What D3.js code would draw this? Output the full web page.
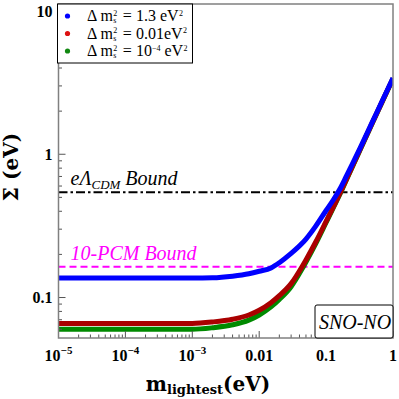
<!DOCTYPE html>
<html>
<head>
<meta charset="utf-8">
<script src="https://cdn.jsdelivr.net/npm/d3@7"></script>
<style>
  html, body { margin: 0; padding: 0; background: #fff; }
  svg { display: block; }
</style>
</head>
<body>
<div id="chart"></div>
<script>
// m_lightest values (eV) where the curves were read
const mLightest = [1e-5, 1e-4, 1e-3, 0.002, 0.004, 0.007, 0.01, 0.015, 0.02, 0.03, 0.043, 0.05, 0.07, 0.1, 0.13, 0.16, 0.2, 0.3, 0.5, 0.7, 1];

// Sum of masses (eV) for each sterile splitting
const sumBlue  = [0.137, 0.137, 0.137, 0.1375, 0.141, 0.1465, 0.1525, 0.161, 0.175, 0.203, 0.237, 0.256, 0.315, 0.405, 0.485, 0.570, 0.70, 1.03, 1.71, 2.39, 3.40];
const sumRed   = [0.066, 0.066, 0.066, 0.0675, 0.0705, 0.0755, 0.0815, 0.092, 0.103, 0.125, 0.162, 0.183, 0.244, 0.340, 0.435, 0.530, 0.665, 1.005, 1.69, 2.37, 3.38];
const sumGreen = [0.060, 0.060, 0.060, 0.0615, 0.0645, 0.0695, 0.0755, 0.086, 0.097, 0.119, 0.156, 0.177, 0.238, 0.334, 0.429, 0.524, 0.659, 0.998, 1.68, 2.36, 3.37];

const seriesNames = ["1.3 eV", "0.01eV", "10^-4 eV"];

// Horizontal bounds
const lcdmBound = 0.544;
const pcmBound = 0.164;

// Tick labels
const xTickValues = [1e-5, 1e-4, 1e-3, 0.01, 0.1, 1];
const xTickLabels = ["10|-5", "10|-4", "10|-3", "0.01", "0.1", "1"];
const yTickValues = [0.1, 1, 10];
const yTickLabels = ["0.1", "1", "10"];

const width = 399, height = 399;
const margin = { top: 4, right: 6, bottom: 61, left: 58.5 };
const innerW = width - margin.left - margin.right;
const innerH = height - margin.top - margin.bottom;

const svg = d3.select('#chart').append('svg')
  .attr('width', width)
  .attr('height', height);

const g = svg.append('g')
  .attr('transform', `translate(${margin.left},${margin.top})`);

const x = d3.scaleLog().domain([1e-5, 1]).range([0, innerW]);
const y = d3.scaleLog().domain([0.05218, 11.19]).range([innerH, 0]);

g.append('clipPath').attr('id', 'clip')
  .append('rect').attr('width', innerW).attr('height', innerH);

const plot = g.append('g').attr('clip-path', 'url(#clip)');

// bound lines
plot.append('line')
  .attr('x1', 0).attr('x2', innerW)
  .attr('y1', y(lcdmBound)).attr('y2', y(lcdmBound))
  .attr('stroke', '#000').attr('stroke-width', 2)
  .attr('stroke-dasharray', '9,3,2.5,3');

plot.append('line')
  .attr('x1', 0).attr('x2', innerW)
  .attr('y1', y(pcmBound)).attr('y2', y(pcmBound))
  .attr('stroke', '#ff00ff').attr('stroke-width', 2)
  .attr('stroke-dasharray', '7,4');

// curves
const line = d3.line()
  .x(d => x(d[0]))
  .y(d => y(d[1]))
  .curve(d3.curveMonotoneX);

const curves = [
  { vals: sumGreen, color: '#008a00' },
  { vals: sumRed, color: '#aa0000' },
  { vals: sumBlue, color: '#0000ff' }
];
curves.forEach(c => {
  plot.append('path')
    .datum(mLightest.map((m, i) => [m, c.vals[i]]))
    .attr('d', line)
    .attr('fill', 'none')
    .attr('stroke', c.color)
    .attr('stroke-width', 5);
});

// ticks (inside)
const tickColor = '#555';
x.ticks().forEach(v => {
  const major = xTickValues.some(t => Math.abs(Math.log10(t) - Math.log10(v)) < 1e-6);
  g.append('line')
    .attr('x1', x(v)).attr('x2', x(v))
    .attr('y1', innerH).attr('y2', innerH - (major ? 7 : 3.5))
    .attr('stroke', tickColor).attr('stroke-width', 1);
});
y.ticks().forEach(v => {
  const major = yTickValues.some(t => Math.abs(Math.log10(t) - Math.log10(v)) < 1e-6);
  g.append('line')
    .attr('x1', 0).attr('x2', major ? 7 : 3.5)
    .attr('y1', y(v)).attr('y2', y(v))
    .attr('stroke', tickColor).attr('stroke-width', 1);
});

// frame
g.append('rect')
  .attr('width', innerW).attr('height', innerH)
  .attr('fill', 'none')
  .attr('stroke', '#808080').attr('stroke-width', 1.5);

// tick labels
const serif = '"Liberation Serif", "DejaVu Serif", serif';
const wideSerif = '"DejaVu Serif", serif';
xTickValues.forEach((v, i) => {
  const parts = xTickLabels[i].split('|');
  const t = g.append('text')
    .attr('x', x(v)).attr('y', innerH + 23)
    .attr('text-anchor', 'middle')
    .style('font-family', serif)
    .style('font-weight', 'bold')
    .style('font-size', '16px')
    .text(parts[0]);
  if (parts[1]) {
    t.append('tspan')
      .attr('dy', -7)
      .style('font-size', '11px')
      .text(parts[1].replace('-', '\u2212'));
  }
});
yTickValues.forEach((v, i) => {
  g.append('text')
    .attr('x', -6).attr('y', y(v))
    .attr('dy', '0.35em')
    .attr('text-anchor', 'end')
    .style('font-family', serif)
    .style('font-weight', 'bold')
    .style('font-size', '16px')
    .text(yTickLabels[i]);
});

// axis titles
svg.append('text')
  .attr('transform', `translate(18,167) rotate(-90)`)
  .attr('text-anchor', 'middle')
  .style('font-family', wideSerif)
  .style('font-weight', 'bold')
  .style('font-size', '20px')
  .text('\u03a3 (eV)');

const xt = svg.append('text')
  .attr('x', 208).attr('y', 391)
  .attr('text-anchor', 'middle')
  .style('font-family', wideSerif)
  .style('font-weight', 'bold')
  .style('font-size', '20px');
xt.append('tspan').text('m');
xt.append('tspan').attr('dy', 3).style('font-size', '13px').text('lightest');
xt.append('tspan').attr('dy', -3).text('(eV)');

// bound annotations
const ann1 = g.append('text')
  .attr('x', 70.5 - margin.left).attr('y', 185 - margin.top)
  .style('font-family', serif)
  .style('font-style', 'italic')
  .style('font-size', '20px')
  .attr('fill', '#000');
ann1.append('tspan').text('e\u039b');
ann1.append('tspan').attr('dy', 4).style('font-size', '13px').text('CDM');
ann1.append('tspan').attr('dy', -4).text(' Bound');

g.append('text')
  .attr('x', 70.5 - margin.left).attr('y', 260 - margin.top)
  .style('font-family', serif)
  .style('font-style', 'italic')
  .style('font-size', '20px')
  .attr('fill', '#ff00ff')
  .text('10-PCM Bound');

// SNO-NO box
g.append('rect')
  .attr('x', 315 - margin.left).attr('y', 305 - margin.top)
  .attr('width', 393 - 315).attr('height', 338 - 305)
  .attr('rx', 2)
  .attr('fill', '#fff')
  .attr('stroke', '#000').attr('stroke-width', 1);
g.append('text')
  .attr('x', 355 - margin.left).attr('y', 329 - margin.top)
  .attr('text-anchor', 'middle')
  .style('font-family', serif)
  .style('font-style', 'italic')
  .style('font-size', '20px')
  .text('SNO-NO');

// legend
const legend = svg.append('g');
legend.append('rect')
  .attr('x', 57.5).attr('y', 4)
  .attr('width', 135).attr('height', 59)
  .attr('fill', '#fff')
  .attr('stroke', '#000').attr('stroke-width', 1);
const dotColors = ['#0000ff', '#dd1111', '#118811'];
const rowY = [16, 33.5, 51];
seriesNames.forEach((name, i) => {
  legend.append('circle')
    .attr('cx', 67.5).attr('cy', rowY[i]).attr('r', 2.6)
    .attr('fill', dotColors[i]);
  const base = rowY[i] + 5;
  const x0 = 87;
  const t1 = legend.append('text')
    .attr('x', x0).attr('y', base)
    .style('font-family', serif)
    .style('font-size', '16px')
    .text('\u0394 m');
  const w1 = t1.node().getComputedTextLength();
  legend.append('text')
    .attr('x', x0 + w1 + 0.5).attr('y', base + 2)
    .style('font-family', serif).style('font-size', '8px')
    .text('s');
  legend.append('text')
    .attr('x', x0 + w1 + 0.5).attr('y', base - 5.5)
    .style('font-family', serif).style('font-size', '8px')
    .text('2');
  const parts = name.split('^');
  const x1 = x0 + w1 + 10;
  const t2 = legend.append('text')
    .attr('x', x1).attr('y', base)
    .style('font-family', serif)
    .style('font-size', '16px');
  if (parts.length > 1) {
    const rest = parts[1].split(' ');
    t2.append('tspan').text('= ' + parts[0]);
    t2.append('tspan').attr('dy', -5.5).style('font-size', '8px').text(rest[0].replace('-', '\u2212'));
    t2.append('tspan').attr('dy', 5.5).text('\u00a0' + rest[1]);
  } else {
    t2.text('= ' + name);
  }
  const w2 = t2.node().getComputedTextLength();
  legend.append('text')
    .attr('x', x1 + w2 + 0.5).attr('y', base - 5.5)
    .style('font-family', serif).style('font-size', '8px')
    .text('2');
});
</script>
</body>
</html>
